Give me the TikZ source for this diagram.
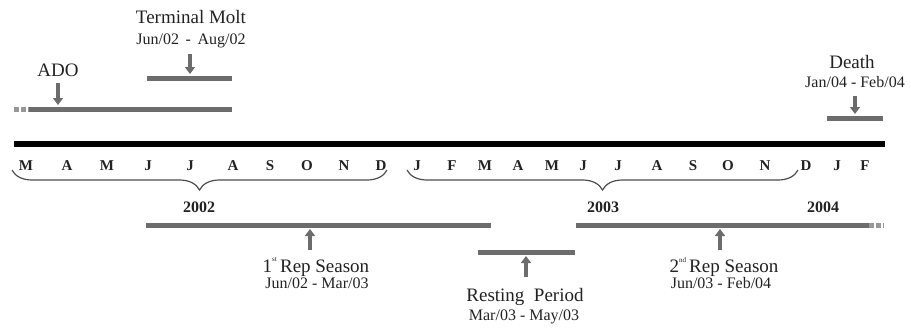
\documentclass[tikz,border=0pt]{standalone}
\usepackage{fontspec}
\setmainfont{Liberation Serif}
\usetikzlibrary{arrows.meta,decorations.pathreplacing}
\definecolor{barcol}{HTML}{6C6C6C}
\definecolor{txt}{HTML}{222222}
\begin{document}
\begin{tikzpicture}[x=1pt,y=-1pt,
 bar/.style={line width=5pt, draw=barcol},
 dotbar/.style={line width=5pt, draw=barcol!70, dash pattern=on 5pt off 2pt},
 ptr/.style={line width=3.5pt, draw=barcol, -{Triangle[width=10pt,length=7pt]}},
 ttl/.style={font=\fontsize{19}{22}\selectfont, text=txt, inner sep=0pt},
 dte/.style={font=\fontsize{16}{19}\selectfont, text=txt, inner sep=0pt},
 month/.style={font=\bfseries\fontsize{15}{18}\selectfont, text=txt, inner sep=0pt},
 yr/.style={font=\bfseries\fontsize{16}{19}\selectfont, text=txt, inner sep=0pt},
 brc/.style={decorate, decoration={brace,mirror,amplitude=20pt}, line width=1.2pt, draw=black!70}]
\useasboundingbox (0,0) rectangle (911,327);
% axis
\coordinate (axL) at (14,144);
\coordinate (axR) at (885,144);
\draw[line width=6pt] (axL) -- (axR);
% months
\foreach \m/\x [count=\i from 0] in {M/26,A/67,M/107,J/148,J/190,A/233,S/270,O/307,N/344,D/381,
  J/417,F/452,M/485,A/518,M/552,J/583,J/618,A/657,S/693,O/728,N/765,D/806,J/837,F/865}
  \node[month] (m\i) at (\x,166) {\m};
% braces
\coordinate (b1L) at (12,170); \coordinate (b1R) at (387,170);
\coordinate (b2L) at (407,170); \coordinate (b2R) at (798,170);
\draw[brc] (b1L) -- (b1R);
\draw[brc] (b2L) -- (b2R);
\node[yr] (y2002) at (199,207) {2002};
\node[yr] (y2003) at (603,207) {2003};
\node[yr] (y2004) at (823,207) {2004};
% ADO
\coordinate (adoD) at (14,109); \coordinate (adoS) at (29,109); \coordinate (adoE) at (232,109);
\draw[dotbar] (adoD) -- (adoS);
\draw[bar] (adoS) -- (adoE);
\node[ttl] (ado) at (58,70) {ADO};
\coordinate (adoA1) at (58,83); \coordinate (adoA2) at (58,105);
\draw[ptr] (adoA1) -- (adoA2);
% Terminal molt
\coordinate (tmS) at (147,78); \coordinate (tmE) at (232,78);
\draw[bar] (tmS) -- (tmE);
\node[ttl] (tm) at (191,17) {Terminal Molt};
\node[dte] (tmd) at (191,41) {Jun/02\,\ -\ \,Aug/02};
\coordinate (tmA1) at (190,54); \coordinate (tmA2) at (190,74);
\draw[ptr] (tmA1) -- (tmA2);
% Death
\coordinate (dS) at (827,118); \coordinate (dE) at (883,118);
\draw[bar] (dS) -- (dE);
\node[ttl] (death) at (852,62) {Death};
\node[dte] (deathd) at (855,82) {Jan/04 - Feb/04};
\coordinate (dA1) at (855,96); \coordinate (dA2) at (855,114);
\draw[ptr] (dA1) -- (dA2);
% 1st rep season
\coordinate (r1S) at (146,225); \coordinate (r1E) at (491,225);
\draw[bar] (r1S) -- (r1E);
\node[ttl] (r1) at (316,267) {1\raisebox{0.55em}{\fontsize{7}{8}\selectfont st}\,Rep Season};
\node[dte] (r1d) at (317,283) {Jun/02 - Mar/03};
\coordinate (r1A1) at (310,250); \coordinate (r1A2) at (310,229);
\draw[ptr] (r1A1) -- (r1A2);
% resting
\coordinate (rpS) at (478,252); \coordinate (rpE) at (575,252);
\draw[bar] (rpS) -- (rpE);
\node[ttl] (rp) at (525,297) {Resting\ \ Period};
\node[dte] (rpd) at (524,317) {Mar/03 - May/03};
\coordinate (rpA1) at (526,277); \coordinate (rpA2) at (526,256);
\draw[ptr] (rpA1) -- (rpA2);
% 2nd rep season
\coordinate (r2S) at (576,225); \coordinate (r2E) at (869,225); \coordinate (r2D) at (884,225);
\draw[bar] (r2S) -- (r2E);
\draw[dotbar] (r2E) -- (r2D);
\node[ttl] (r2) at (724,267) {2\raisebox{0.55em}{\fontsize{7}{8}\selectfont nd}\,Rep Season};
\node[dte] (r2d) at (721,283) {Jun/03 - Feb/04};
\coordinate (r2A1) at (720,250); \coordinate (r2A2) at (720,229);
\draw[ptr] (r2A1) -- (r2A2);
\end{tikzpicture}
\end{document}
